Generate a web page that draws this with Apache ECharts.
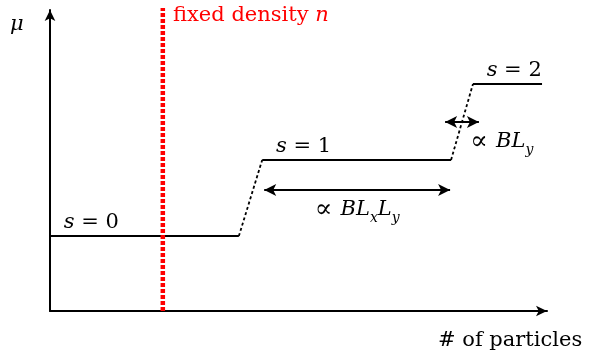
<!DOCTYPE html>
<html><head><meta charset="utf-8">
<script src="https://cdn.jsdelivr.net/npm/echarts@6/dist/echarts.min.js"></script>
<style>html,body{margin:0;padding:0;background:#fff}#c{width:592px;height:354px}</style>
</head><body><div id="c"></div>
<script>
// Data (abstract units: x = # of particles, y = chemical potential mu)
const plateauStart = [0, 42.7, 85.1];
const plateauEnd   = [38.0, 80.7, 99.0];
const plateauMu    = [24.9, 50.2, 75.4];
const plateauNames = ['0', '1', '2'];
const fixedDensityX = 22.7;
const fixedDensityRange = [0, 100.7];
const areaArrowX = [43.1, 80.5];
const areaArrowY = 40.2;
const fieldArrowX = [79.5, 86.3];
const fieldArrowY = 62.8;

const FONT = 'DejaVu Serif';
const FS = 21;
const chart = echarts.init(document.getElementById('c'), null, {renderer: 'canvas'});

const series = [];
for (let i = 0; i < plateauStart.length; i++) {
  series.push({
    type: 'line', silent: true, symbol: 'none', clip: false,
    data: [[plateauStart[i], plateauMu[i]], [plateauEnd[i], plateauMu[i]]],
    lineStyle: {color: '#000', width: 2}
  });
}
for (let i = 0; i < plateauStart.length - 1; i++) {
  series.push({
    type: 'line', silent: true, symbol: 'none', clip: false,
    data: [[plateauEnd[i], plateauMu[i]], [plateauStart[i + 1], plateauMu[i + 1]]],
    lineStyle: {color: '#000', width: 1.8, type: [3, 2.5]}
  });
}
series.push({
  type: 'line', silent: true, symbol: 'none', clip: false,
  data: [[fixedDensityX, fixedDensityRange[0]], [fixedDensityX, fixedDensityRange[1]]],
  lineStyle: {color: '#ff0000', width: 4.5, type: [4, 2]},
  z: 5
});
series.push({
  type: 'scatter', silent: true, symbolSize: 0, clip: false,
  itemStyle: {opacity: 1},
  data: plateauStart.map((s, i) => [s + 8.3, plateauMu[i], plateauNames[i]]),
  label: {
    show: true, position: 'top', distance: 3,
    formatter: p => '{i|s} = ' + p.data[2],
    fontFamily: FONT, fontSize: FS, color: '#000',
    rich: {i: {fontFamily: FONT, fontStyle: 'italic', fontSize: FS, color: '#000'}}
  }
});
series.push({
  type: 'line', silent: true, symbol: 'none', data: [],
  markLine: {
    silent: true, symbol: ['arrow', 'arrow'], symbolSize: [9, 12],
    lineStyle: {color: '#000', width: 2, type: 'solid'},
    label: {show: false},
    data: [
      [{coord: [areaArrowX[0], areaArrowY]}, {coord: [areaArrowX[1], areaArrowY]}],
      [{coord: [fieldArrowX[0], fieldArrowY]}, {coord: [fieldArrowX[1], fieldArrowY]}]
    ]
  }
});
series.push({
  type: 'scatter', silent: true, symbolSize: 0, clip: false,
  itemStyle: {opacity: 1},
  data: [[(areaArrowX[0] + areaArrowX[1]) / 2, areaArrowY, 'a'], [fieldArrowX[1] + 4.6, fieldArrowY, 'b']],
  label: {
    show: true, position: 'bottom', distance: 5,
    formatter: p => p.data[2] === 'a'
      ? '{m|∝ }{i|BL}{s|x}{i|L}{s|y}'
      : '{m|∝ }{i|BL}{s|y}',
    rich: {
      m: {fontFamily: FONT, fontSize: 26, color: '#000', lineHeight: 30, verticalAlign: 'middle'},
      i: {fontFamily: FONT, fontStyle: 'italic', fontSize: FS, color: '#000', lineHeight: 30, verticalAlign: 'middle'},
      s: {fontFamily: FONT, fontStyle: 'italic', fontSize: 14, color: '#000', lineHeight: 14, verticalAlign: 'bottom'}
    }
  }
});

chart.setOption({
  animation: false,
  grid: {left: 50, right: 45, top: 10, bottom: 43},
  xAxis: {
    type: 'value', min: 0, max: 100,
    axisLine: {show: true, onZero: false, symbol: ['none', 'arrow'], symbolSize: [8, 11], lineStyle: {color: '#000', width: 2}},
    axisTick: {show: false}, axisLabel: {show: false}, splitLine: {show: false}
  },
  yAxis: {
    type: 'value', min: 0, max: 100,
    axisLine: {show: true, onZero: false, symbol: ['none', 'arrow'], symbolSize: [8, 11], lineStyle: {color: '#000', width: 2}},
    axisTick: {show: false}, axisLabel: {show: false}, splitLine: {show: false}
  },
  graphic: [
    {type: 'text', left: 10, top: 14, style: {text: 'μ', font: 'italic ' + FS + 'px ' + FONT, fill: '#000'}},
    {type: 'text', left: 438, top: 330, style: {text: '# of particles', font: FS + 'px ' + FONT, fill: '#000'}},
    {type: 'text', left: 173, top: 5, style: {
      text: '{a|fixed density }{i|n}',
      rich: {a: {fontFamily: FONT, fontSize: FS, fill: '#ff0000'}, i: {fontFamily: FONT, fontStyle: 'italic', fontSize: FS, fill: '#ff0000'}}
    }}
  ],
  series: series
});
</script></body></html>
